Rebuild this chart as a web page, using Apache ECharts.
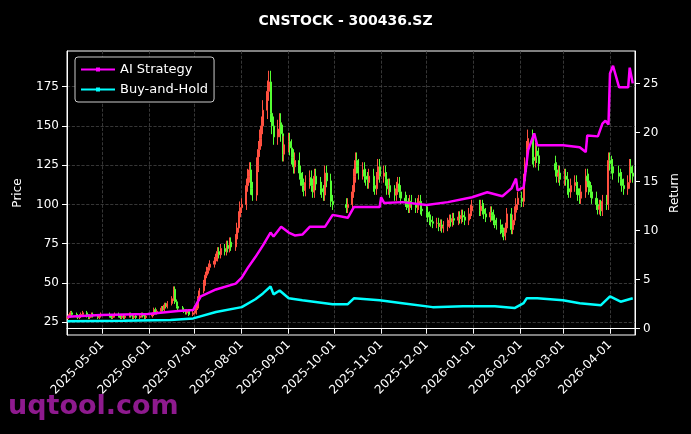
<!DOCTYPE html>
<html><head><meta charset="utf-8">
<script src="https://cdn.jsdelivr.net/npm/echarts@6/dist/echarts.min.js"></script>
<style>html,body{margin:0;background:#000;}#c{width:691px;height:434px;}</style>
</head><body><div id="c"></div>
<script>
// Monthly daily closes (trading days in order)
const closesByMonth = {
 "2025-04":[28,29,31,30,29,28,29,30,31,29,28,29,30,29,28,29,30],
 "2025-05":[29,28,29,30,29,28,29,28,29,30,29,28,29,28,29,30,29,28,29],
 "2025-06":[30,33,31,32,34,33,36,35,37,40,46,38,35,34,33,32,31,32,30,31],
 "2025-07":[31,34,40,45,50,55,58,60,62,64,66,70,68,72,70,74,72,76,73,78,85,92,98],
 "2025-08":[100,112,118,122,110,106,125,135,142,150,160,172,178,158,150,143,148,152,145,132,138],
 "2025-09":[140,136,130,124,128,120,116,112,109,114,117,112,108,118,113,110,108,106,120,115,102,100],
 "2025-10":[98,100,108,118,128,124,120,122,118,116,114,118,112,110,116,124,118],
 "2025-11":[120,116,110,112,108,106,110,113,108,104,102,100,98,102,100,98,100,102,97,96],
 "2025-12":[95,92,90,89,88,88,86,87,85,86,88,90,89,91,90,92,91,93,92,90,94,96,99],
 "2026-01":[96,99,97,94,92,95,93,90,88,87,84,82,80,85,94,84,90,95,100,104],
 "2026-02":[102,115,125,135,142,130,128,134,131,126,122,118,120,116],
 "2026-03":[118,116,110,108,112,114,110,106,104,108,118,115,110,108,104,100,97,99,96,102,100,128],
 "2026-04":[126,124,120,118,116,112,110,114,124,120,118]
};
const holidays = ["2025-05-01","2025-05-02","2025-05-05","2025-06-02","2025-10-01","2025-10-02","2025-10-03","2025-10-06","2025-10-07","2025-10-08","2026-01-01","2026-01-02","2026-02-16","2026-02-17","2026-02-18","2026-02-19","2026-02-20","2026-02-23","2026-04-06"];
const strategy = [["2025-04-08",1.22],["2025-04-30",1.4],["2025-05-31",1.5],["2025-06-20",1.8],["2025-06-30",1.9],["2025-07-01",2.2],["2025-07-05",3.3],["2025-07-15",4.0],["2025-07-28",4.6],["2025-08-01",5.2],["2025-08-05",6.2],["2025-08-10",7.3],["2025-08-15",8.5],["2025-08-20",9.8],["2025-08-22",9.4],["2025-08-27",10.4],["2025-09-01",9.8],["2025-09-05",9.5],["2025-09-10",9.6],["2025-09-15",10.4],["2025-09-25",10.4],["2025-09-30",11.6],["2025-10-10",11.3],["2025-10-14",12.4],["2025-10-31",12.4],["2025-11-01",13.4],["2025-11-03",12.8],["2025-11-15",12.9],["2025-12-01",12.6],["2025-12-15",12.9],["2025-12-31",13.4],["2026-01-10",13.9],["2026-01-20",13.5],["2026-01-26",14.3],["2026-01-29",15.3],["2026-01-30",14.1],["2026-02-03",14.4],["2026-02-06",18.2],["2026-02-10",19.9],["2026-02-12",18.7],["2026-03-01",18.7],["2026-03-12",18.5],["2026-03-16",18.0],["2026-03-17",19.7],["2026-03-24",19.6],["2026-03-27",20.9],["2026-03-29",21.2],["2026-03-31",20.8],["2026-04-01",26.0],["2026-04-03",26.8],["2026-04-07",24.6],["2026-04-13",24.6],["2026-04-14",26.6],["2026-04-16",25.0]];
const buyHold = [["2025-04-08",0.75],["2025-05-15",0.8],["2025-06-15",0.9],["2025-06-30",1.05],["2025-07-01",1.2],["2025-07-15",1.7],["2025-08-01",2.2],["2025-08-10",3.0],["2025-08-15",3.6],["2025-08-20",4.3],["2025-08-22",3.5],["2025-08-26",3.9],["2025-09-01",3.1],["2025-09-10",2.9],["2025-09-30",2.5],["2025-10-10",2.5],["2025-10-14",3.1],["2025-10-31",2.9],["2025-11-01",3.1],["2025-11-15",2.6],["2025-12-05",2.2],["2025-12-25",2.3],["2026-01-15",2.3],["2026-01-28",2.1],["2026-02-03",2.6],["2026-02-05",3.1],["2026-02-12",3.1],["2026-03-01",2.9],["2026-03-12",2.6],["2026-03-26",2.4],["2026-04-01",3.3],["2026-04-08",2.75],["2026-04-16",3.1]];
const priceTicks = [25,50,75,100,125,150,175];
const returnTicks = [0,5,10,15,20,25];

function pad(n){return n<10?'0'+n:''+n;}
const candles=[]; let prev=null;
Object.keys(closesByMonth).forEach(m=>{
  const [y,mo]=m.split('-').map(Number);
  const days=[];
  for(let d=1;d<=31;d++){
    const dt=new Date(Date.UTC(y,mo-1,d));
    if(dt.getUTCMonth()!==mo-1)break;
    const s=`${y}-${pad(mo)}-${pad(d)}`;
    const wd=dt.getUTCDay();
    if(wd===0||wd===6||holidays.includes(s))continue;
    if(m==="2025-04"&&d<8)continue;
    days.push(s);
  }
  closesByMonth[m].forEach((c,i)=>{
    if(i>=days.length)return;
    const o=prev===null?c:prev;
    const hi=Math.max(o,c)*1.04, lo=Math.min(o,c)*0.965;
    candles.push([days[i],o,c,lo,hi]); prev=c;
  });
});
const ts=s=>new Date(s+"T00:00:00").getTime();
const chart=echarts.init(document.getElementById('c'));
chart.setOption({
  backgroundColor:'#000',animation:false,
  title:{text:'CNSTOCK - 300436.SZ',left:'center',top:9,textStyle:{color:'#fff',fontSize:14,fontWeight:'bold',fontFamily:'DejaVu Sans'}},
  graphic:[{type:'text',left:8,top:393,style:{text:'uqtool.com',fill:'#8e1a8e',font:'bold 27px DejaVu Sans'}}],
  legend:{left:75,top:57,orient:'vertical',backgroundColor:'#000',borderColor:'#ccc',borderWidth:1,borderRadius:3,padding:[6,6],itemGap:7,itemWidth:34,itemHeight:9,
    textStyle:{color:'#fff',fontSize:13,fontFamily:'DejaVu Sans'},
    data:[{name:'AI Strategy',icon:'path://M0,3.5H34V5.5H0Z M15,2.5h4v4h-4z'},{name:'Buy-and-Hold',icon:'path://M0,3.5H34V5.5H0Z M15,2.5h4v4h-4z'}]},
  grid:{left:67,right:56,top:51,bottom:99,show:true,borderColor:'#fff',borderWidth:1,backgroundColor:'transparent'},
  xAxis:{type:'time',min:ts('2025-04-07')+17*3600e3,max:ts('2026-04-17')+12*3600e3,splitNumber:12,
    axisLine:{lineStyle:{color:'#fff'}},axisTick:{show:true,lineStyle:{color:'#fff'}},
    axisLabel:{rotate:45,color:'#fff',fontSize:12,fontFamily:'DejaVu Sans',hideOverlap:false,formatter:v=>{const d=new Date(v);return d.getFullYear()+'-'+pad(d.getMonth()+1)+'-'+pad(d.getDate());}},
    splitLine:{show:true,lineStyle:{color:'#444',type:'dashed',width:0.8}}},
  yAxis:[{type:'value',name:'Price',nameLocation:'middle',nameGap:43,nameTextStyle:{color:'#fff',fontSize:12,fontFamily:'DejaVu Sans'},min:16.9,max:197.7,
    axisLine:{show:true,lineStyle:{color:'#fff'}},axisTick:{show:true,customValues:priceTicks,lineStyle:{color:'#fff'}},
    axisLabel:{customValues:priceTicks,color:'#fff',fontSize:12,fontFamily:'DejaVu Sans'},
    splitLine:{show:true,lineStyle:{color:'#444',type:'dashed',width:0.8}}},
   {type:'value',name:'Return',nameLocation:'middle',nameGap:30,nameTextStyle:{color:'#fff',fontSize:12,fontFamily:'DejaVu Sans'},min:-0.64,max:28.3,position:'right',
    axisLine:{show:true,lineStyle:{color:'#fff'}},axisTick:{show:true,customValues:returnTicks,lineStyle:{color:'#fff'}},
    axisLabel:{customValues:returnTicks,color:'#fff',fontSize:12,fontFamily:'DejaVu Sans'},splitLine:{show:false}}],
  series:[
   {type:'candlestick',data:candles,barWidth:1.5,itemStyle:{color:'#ff5040',color0:'#55ff33',borderColor:'#ff5040',borderColor0:'#55ff33',borderWidth:1}},
   {name:'AI Strategy',type:'line',yAxisIndex:1,data:strategy,showSymbol:false,lineStyle:{color:'#ff00ff',width:2.5},itemStyle:{color:'#ff00ff'}},
   {name:'Buy-and-Hold',type:'line',yAxisIndex:1,data:buyHold,showSymbol:false,lineStyle:{color:'#00ffff',width:2.5},itemStyle:{color:'#00ffff'}}
  ]
});
</script></body></html>
